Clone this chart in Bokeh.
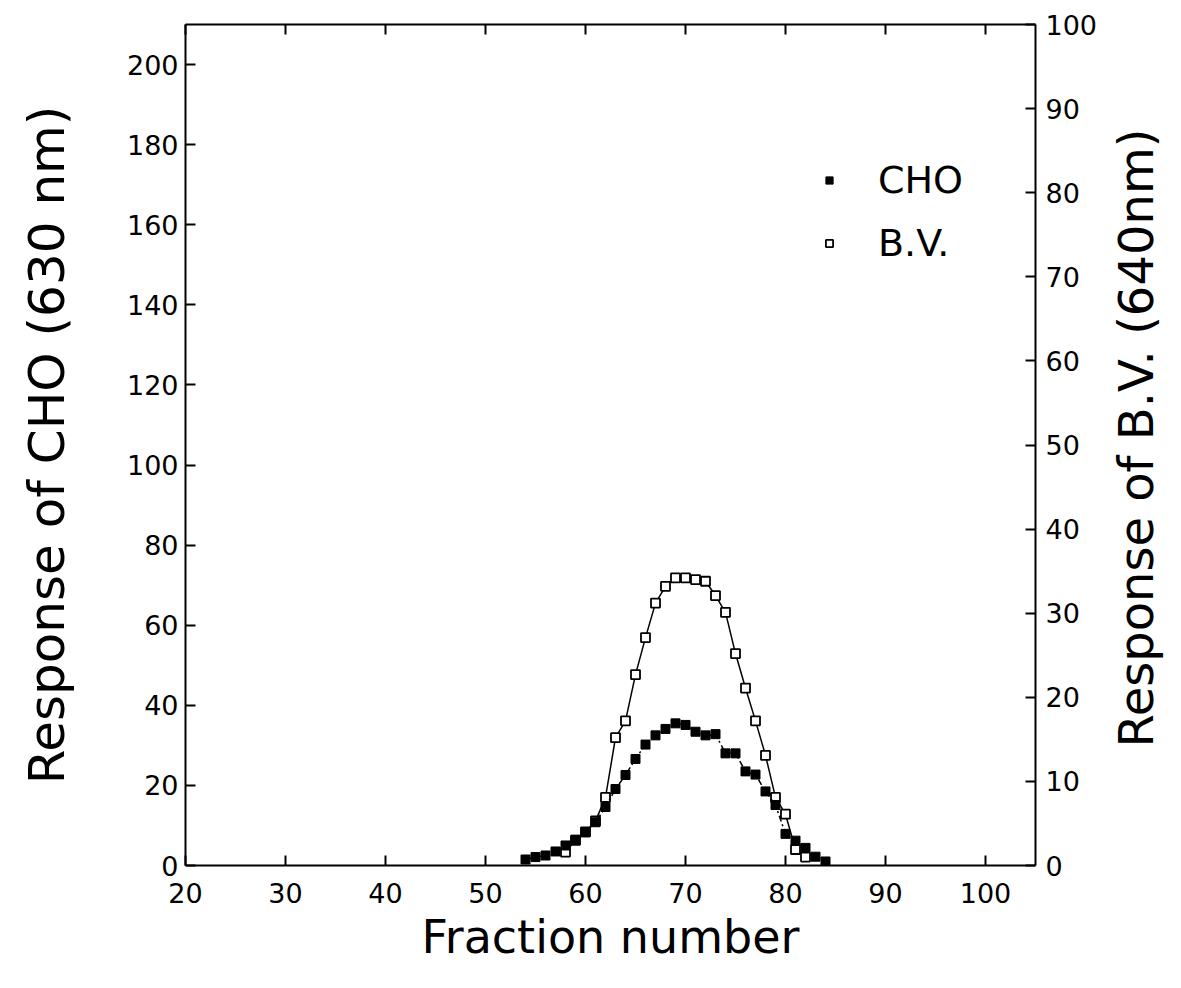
import math
from bokeh.plotting import figure
from bokeh.layouts import row
from bokeh.models import Range1d, LinearAxis, FixedTicker, Legend, LegendItem, Label
from bokeh.embed import file_html
from bokeh.resources import INLINE

# ---- data ----
cho_x = [54, 55, 56, 57, 58, 59, 60, 61, 62, 63, 64, 65, 66, 67, 68, 69, 70,
         71, 72, 73, 74, 75, 76, 77, 78, 79, 80, 81, 82, 83, 84]
cho_y = [1.5, 2.1, 2.5, 3.5, 5.0, 6.4, 8.3, 10.8, 14.6, 19.1, 22.6, 26.6, 30.2,
         32.5, 34.1, 35.5, 35.1, 33.4, 32.5, 32.8, 28.0, 28.0, 23.5, 22.7, 18.5,
         15.1, 7.9, 6.2, 4.4, 2.2, 1.0]
bv_x = [58, 59, 60, 61, 62, 63, 64, 65, 66, 67, 68, 69, 70, 71, 72, 73, 74, 75,
        76, 77, 78, 79, 80, 81, 82]
bv_y = [1.6, 3.0, 4.0, 5.3, 8.1, 15.2, 17.2, 22.7, 27.1, 31.2, 33.2, 34.2, 34.2,
        34.0, 33.8, 32.1, 30.1, 25.2, 21.1, 17.2, 13.1, 8.1, 6.1, 1.9, 1.0]
x_ticks = [20, 30, 40, 50, 60, 70, 80, 90, 100]
left_ticks = [0, 20, 40, 60, 80, 100, 120, 140, 160, 180, 200]
right_ticks = [0, 10, 20, 30, 40, 50, 60, 70, 80, 90, 100]
x_title = "Fraction number"
left_title = "Response of CHO (630 nm)"
right_title = "Response of B.V. (640nm)"

FONT = "DejaVu Sans"
TOTAL_W = 1165
TOTAL_H = 972
SIDE_W = 60
MAIN_W = TOTAL_W - SIDE_W
FRAME_W = 850
FRAME_H = 841

p = figure(width=MAIN_W, height=TOTAL_H, output_backend="svg", toolbar_location=None,
           x_range=Range1d(20, 105), y_range=Range1d(0, 210),
           min_border_left=185, min_border_right=MAIN_W - 185 - FRAME_W,
           min_border_top=24, min_border_bottom=TOTAL_H - 24 - FRAME_H)
p.extra_y_ranges = {"bv": Range1d(0, 100)}
p.grid.visible = False
p.outline_line_color = None
p.background_fill_color = "white"
p.border_fill_color = "white"


def style_axis(ax, ticks, labels=True):
    ax.ticker = FixedTicker(ticks=ticks)
    ax.minor_tick_line_color = None
    ax.major_tick_in = 10
    ax.major_tick_out = 0
    ax.major_tick_line_color = "black"
    ax.major_tick_line_width = 2
    ax.axis_line_color = "black"
    ax.axis_line_width = 2
    ax.major_label_text_font = FONT
    ax.major_label_text_font_size = "27px"
    ax.major_label_text_color = "black"
    ax.axis_label_text_font = FONT
    ax.axis_label_text_font_size = "46px"
    ax.axis_label_text_font_style = "normal"
    ax.axis_label_text_color = "black"
    if not labels:
        ax.major_label_text_color = None
        ax.major_label_text_font_size = "0px"
        ax.major_label_standoff = 0


xa = p.xaxis[0]
style_axis(xa, x_ticks)
xa.axis_label = x_title
xa.major_label_standoff = 17
xa.axis_label_standoff = 4

ya = p.yaxis[0]
style_axis(ya, left_ticks)
ya.axis_label = left_title
ya.axis_label_text_font_size = "50px"
ya.major_label_standoff = 7
ya.axis_label_standoff = 48

top = LinearAxis()
style_axis(top, x_ticks, labels=False)
p.add_layout(top, "above")

right = LinearAxis(y_range_name="bv")
style_axis(right, right_ticks)
right.major_label_standoff = 10
p.add_layout(right, "right")

# ---- series ----
p.line(bv_x, bv_y, y_range_name="bv", line_color="black", line_width=1.5)
bv_r = p.scatter(bv_x, bv_y, y_range_name="bv", marker="square", size=9,
                 fill_color="white", line_color="black", line_width=1.8)
p.line(cho_x, cho_y, line_color="black", line_width=1.5, line_dash="6 3 2 3")
cho_r = p.scatter(cho_x, cho_y, marker="square", size=9,
                  fill_color="black", line_color="black")

legend = Legend(items=[LegendItem(label="CHO", renderers=[cho_r]),
                       LegendItem(label="B.V.", renderers=[bv_r])],
                location=(635, 600))
legend.border_line_color = None
legend.background_fill_alpha = 0
legend.padding = 0
legend.margin = 0
legend.glyph_width = 18
legend.glyph_height = 18
legend.label_standoff = 40
legend.spacing = 19
legend.label_text_font = FONT
legend.label_text_font_size = "38px"
legend.label_text_color = "black"
p.add_layout(legend, "center")

# ---- side strip carrying the right-hand axis title (reads bottom to top) ----
p2 = figure(width=SIDE_W, height=TOTAL_H, output_backend="svg", toolbar_location=None,
            x_range=Range1d(0, SIDE_W), y_range=Range1d(0, TOTAL_H),
            x_axis_location=None, y_axis_location=None,
            min_border=0, min_border_left=0, min_border_right=0,
            min_border_top=0, min_border_bottom=0)
p2.grid.visible = False
p2.outline_line_color = None
p2.background_fill_color = "white"
p2.border_fill_color = "white"
p2.add_layout(Label(x=30, y=TOTAL_H - 478, text=right_title, angle=math.pi / 2,
                    text_align="center", text_baseline="middle", text_font=FONT,
                    text_font_size="48px", text_color="black"))

layout = row(p, p2, spacing=0)
open("out.html", "w").write(file_html(layout, INLINE))
